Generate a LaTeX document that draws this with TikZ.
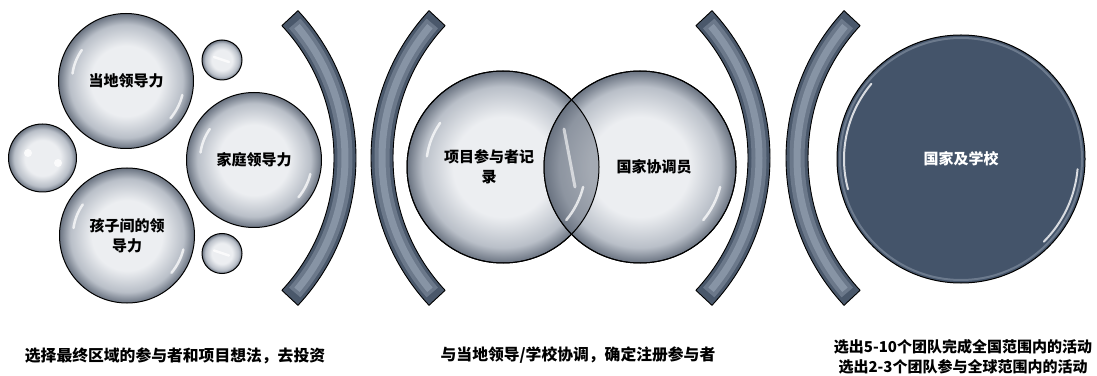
\documentclass[tikz,border=0pt]{standalone}
\usepackage{fontspec}
\newfontfamily\cjk{Noto Sans CJK SC}
\usepackage{tikz}

\definecolor{bubin}{HTML}{ECEEF1}
\definecolor{bubmid}{HTML}{B9BFC8}
\definecolor{bubout}{HTML}{6A7381}
\definecolor{slate}{HTML}{44546A}
\definecolor{arcdark}{HTML}{4A586B}
\definecolor{arcmid}{HTML}{6B788A}
\definecolor{arclight}{HTML}{8794A5}

\pgfdeclareradialshading{bubshade}{\pgfpoint{0bp}{0bp}}{color(0bp)=(bubin); color(13bp)=(bubin); color(21bp)=(bubmid); color(25bp)=(bubout); color(50bp)=(bubout)}

\tikzset{
  bubble/.style={circle, draw=black, line width=1pt, shade, shading=bubshade, inner sep=0pt, minimum size=#1},
  lbl/.style={font=\cjk\bfseries\fontsize{15}{20}\selectfont, align=center},
  note/.style={font=\cjk\bfseries\fontsize{15.8}{20}\selectfont, align=center},
  shine/.style={white, line width=2.5pt, opacity=0.75, line cap=round},
}

% 高光
\newcommand{\glint}[2]{%
  \draw[shine] ([shift={(145:{0.8*#2})}]#1.center) arc[start angle=145, end angle=172, radius={0.8*#2}];
  \draw[shine] ([shift={(-40:{0.86*#2})}]#1.center) arc[start angle=-40, end angle=-14, radius={0.86*#2}];}

\begin{document}
\begin{tikzpicture}[x=1pt,y=1pt]
    \useasboundingbox (0,0) rectangle (1097,375);

    % 左侧的圆
    \node[bubble=135pt, lbl] (local) at (126,294) {当地领导力};
    \node[bubble=135pt, lbl] (home) at (254,215) {家庭领导力};
    \node[bubble=135pt, lbl] (kids) at (127,139.5) {孩子间的领\\导力};
    \node[bubble=68pt] (sleft) at (42.5,217) {};
    \node[bubble=40pt] (stop) at (222,315) {};
    \node[bubble=40pt] (sbot) at (222,121.5) {};
    \glint{local}{67.5}
    \glint{home}{67.5}
    \glint{kids}{67.5}
    \fill[white, opacity=0.8] ([shift={(-14.5,5)}]sleft.center) circle (4);
    \fill[white, opacity=0.8] ([shift={(15.5,-5)}]sleft.center) circle (4);
    \draw[shine] ([shift={(-8,3)}]stop.center) -- ([shift={(7,-2)}]stop.center);
    \draw[shine] ([shift={(-8,3)}]sbot.center) -- ([shift={(7,-2)}]sbot.center);

    % 括号
    \foreach \cx/\a in {140/0, 587/180, 554/0, 1002/180} {
      \coordinate (pc) at (\cx,217);
      \fill[arcdark] ([shift={({\a-43}:216)}]pc) arc[start angle={\a-43}, end angle={\a+43}, radius=216]
        -- ([shift={({\a+43}:194)}]pc) arc[start angle={\a+43}, end angle={\a-43}, radius=194] -- cycle;
      \draw[arcmid, line width=15pt] ([shift={({\a-41}:205)}]pc) arc[start angle={\a-41}, end angle={\a+41}, radius=205];
      \draw[arclight, line width=7pt] ([shift={({\a-40}:205)}]pc) arc[start angle={\a-40}, end angle={\a+40}, radius=205];
      \draw[black, line width=0.9pt, line join=round] ([shift={({\a-43}:216)}]pc) arc[start angle={\a-43}, end angle={\a+43}, radius=216]
        -- ([shift={({\a+43}:194)}]pc) arc[start angle={\a+43}, end angle={\a-43}, radius=194] -- cycle;
    }

    % 中间的两个圆
    \node[bubble=192pt] (record) at (503,208) {};
    \node[bubble=192pt] (coord) at (640,208) {};
    \begin{scope}
      \clip (record.center) circle (96);
      \fill[bubout, opacity=0.55] (coord.center) circle (96);
    \end{scope}
    \draw[line width=1pt] (record.center) circle (96);
    \draw[line width=1pt] (coord.center) circle (96);
    \glint{record}{96}
    \draw[shine] ([shift={(-40:{0.86*96})}]coord.center) arc[start angle=-40, end angle=-14, radius={0.86*96}];
    \draw[shine, line width=3pt, opacity=0.6] ([shift={(61,38)}]record.center) -- ([shift={(72,-20)}]record.center);
    \node[lbl] (recordtext) at (489,208) {项目参与者记\\录};
    \node[lbl] (coordtext) at (654,208) {国家协调员};

    % 右侧的圆
    \node[circle, draw=black, fill=slate, line width=1pt, inner sep=0pt, minimum size=248pt] (nation) at (961,216) {};
    \draw[arclight, line width=2pt, opacity=0.6] (nation.center) circle (121);
    \draw[white, line width=2pt, opacity=0.8, line cap=round] ([shift={(140:117)}]nation.center) arc[start angle=140, end angle=195, radius=117];
    \draw[white, line width=2pt, opacity=0.8, line cap=round] ([shift={(-45:117)}]nation.center) arc[start angle=-45, end angle=-5, radius=117];
    \node[lbl, text=white] (nationtext) at (nation.center) {国家及学校};

    % 说明
    \node[note] (note1) at (175,19.5) {选择最终区域的参与者和项目想法，去投资};
    \node[note] (note2) at (578,19.5) {与当地领导/学校协调，确定注册参与者};
    \node[lbl] (note3) at (963,18) {选出5-10个团队完成全国范围内的活动\\选出2-3个团队参与全球范围内的活动};
\end{tikzpicture}
\end{document}
